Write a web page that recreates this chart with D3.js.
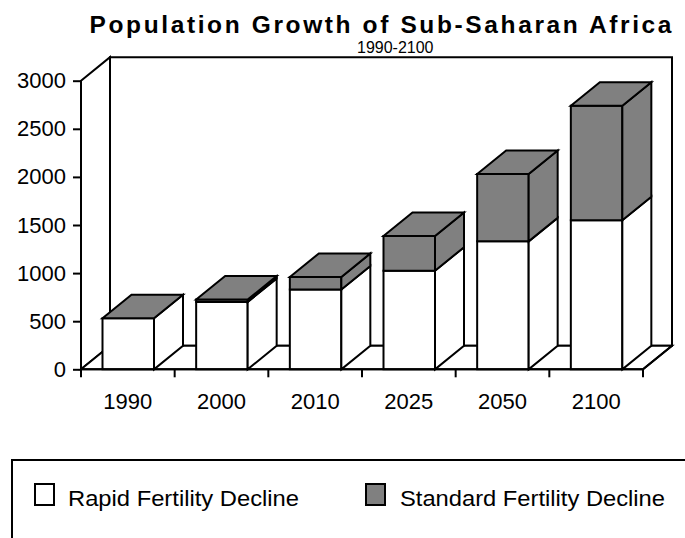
<!DOCTYPE html>
<html>
<head>
<meta charset="utf-8">
<script src="https://cdn.jsdelivr.net/npm/d3@7/dist/d3.min.js"></script>
<style>
  html, body { margin: 0; padding: 0; background: #fff; }
  svg { display: block; font-family: "Liberation Sans", Arial, Helvetica, sans-serif; }
</style>
</head>
<body>
<svg id="chart" width="685" height="538"></svg>
<script>
// Population (millions), Sub-Saharan Africa
const years = ["1990", "2000", "2010", "2025", "2050", "2100"];
const rapidDecline = [530, 700, 830, 1025, 1330, 1550];
const standardDecline = [530, 725, 960, 1385, 2030, 2740];
const yTicks = [0, 500, 1000, 1500, 2000, 2500, 3000];
const seriesNames = ["Rapid Fertility Decline", "Standard Fertility Decline"];
const seriesColors = ["#ffffff", "#808080"];

const svg = d3.select("#chart");

// plot geometry (front plane + depth offset for the 3-D look)
const plotLeft = 81, plotRight = 643, plotBottom = 369.3, plotTop = 80.7;
const dx = 29, dy = -23.5;

const x = d3.scaleBand().domain(years).range([plotLeft, plotRight]).padding(0);
const y = d3.scaleLinear().domain([0, 3000]).range([plotBottom, plotTop]);

const barOffset = 21.5, barWidth = 51.5;
const line = d3.line();

const g = svg.append("g")
  .attr("fill", "none")
  .attr("stroke", "#000")
  .attr("stroke-width", 2)
  .attr("stroke-linejoin", "miter");

// back wall
g.append("path").attr("fill", "#fff")
  .attr("d", line([[plotLeft + dx, y(3000) + dy], [plotRight + dx, y(3000) + dy],
                   [plotRight + dx, y(0) + dy], [plotLeft + dx, y(0) + dy]]) + "Z");
// side wall
g.append("path").attr("fill", "#fff")
  .attr("d", line([[plotLeft, y(3000)], [plotLeft + dx, y(3000) + dy],
                   [plotLeft + dx, y(0) + dy], [plotLeft, y(0)]]) + "Z");
// floor
g.append("path").attr("fill", "#fff")
  .attr("d", line([[plotLeft, y(0)], [plotLeft + dx, y(0) + dy],
                   [plotRight + dx, y(0) + dy], [plotRight, y(0)]]) + "Z");

// stacked 3-D columns
years.forEach((yr, i) => {
  const x0 = x(yr) + barOffset, x1 = x0 + barWidth;
  const segs = [
    [0, rapidDecline[i], seriesColors[0]],
    [rapidDecline[i], standardDecline[i], seriesColors[1]]
  ];
  const bar = g.append("g");
  segs.forEach(([v0, v1, c]) => {
    if (v1 - v0 <= 0) return;
    bar.append("path").attr("fill", c)
      .attr("d", line([[x0, y(v1)], [x1, y(v1)], [x1, y(v0)], [x0, y(v0)]]) + "Z");
    bar.append("path").attr("fill", c)
      .attr("d", line([[x1, y(v1)], [x1 + dx, y(v1) + dy], [x1 + dx, y(v0) + dy], [x1, y(v0)]]) + "Z");
  });
  const vt = standardDecline[i];
  bar.append("path").attr("fill", seriesColors[1])
    .attr("d", line([[x0, y(vt)], [x0 + dx, y(vt) + dy], [x1 + dx, y(vt) + dy], [x1, y(vt)]]) + "Z");
});

// front edges drawn over the columns
g.append("path").attr("d", line([[plotLeft, y(3000)], [plotLeft, y(0)], [plotRight, y(0)], [plotRight + dx, y(0) + dy]]));

// y axis ticks and labels
const yAxis = d3.axisLeft(y).tickValues(yTicks).tickFormat(d3.format("d"))
  .tickSize(8).tickSizeOuter(0).tickPadding(7);
const ya = svg.append("g").attr("transform", `translate(${plotLeft},0)`).call(yAxis);
ya.select(".domain").remove();
ya.selectAll(".tick line").attr("stroke", "#000").attr("stroke-width", 2);
ya.selectAll(".tick text").attr("font-size", 22).attr("fill", "#000")
  .attr("font-family", "Liberation Sans, Arial, sans-serif");

// x axis: ticks on category boundaries, labels centred in each band
const bounds = years.map(d => x(d)).concat([plotRight]);
svg.append("g").selectAll("line").data(bounds).join("line")
  .attr("x1", d => d).attr("x2", d => d)
  .attr("y1", plotBottom).attr("y2", plotBottom + 8)
  .attr("stroke", "#000").attr("stroke-width", 2);
const xAxis = d3.axisBottom(x).tickSize(0).tickPadding(0);
const xa = svg.append("g").attr("transform", `translate(0,${plotBottom})`).call(xAxis);
xa.select(".domain").remove();
xa.selectAll(".tick text").attr("font-size", 22).attr("fill", "#000")
  .attr("font-family", "Liberation Sans, Arial, sans-serif")
  .attr("dy", null).attr("y", 40);

// titles
svg.append("text").attr("x", 89.5).attr("y", 33)
  .attr("font-size", 24.5).attr("font-weight", "bold")
  .attr("textLength", 582).attr("lengthAdjust", "spacing")
  .text("Population Growth of Sub-Saharan Africa");
svg.append("text").attr("x", 357).attr("y", 53)
  .attr("font-size", 16)
  .text("1990-2100");

// legend
const lg = svg.append("g");
lg.append("rect").attr("x", 12).attr("y", 460).attr("width", 700).attr("height", 120)
  .attr("fill", "#fff").attr("stroke", "#000").attr("stroke-width", 2);
const legendItems = [
  { sx: 35, tx: 68, tw: 231 },
  { sx: 366, tx: 400, tw: 265 }
];
legendItems.forEach((it, i) => {
  lg.append("rect").attr("x", it.sx).attr("y", 484).attr("width", 19).attr("height", 21)
    .attr("fill", seriesColors[i]).attr("stroke", "#000").attr("stroke-width", 2);
  lg.append("text").attr("x", it.tx).attr("y", 505.5)
    .attr("font-size", 22).attr("textLength", it.tw).attr("lengthAdjust", "spacingAndGlyphs")
    .text(seriesNames[i]);
});
</script>
</body>
</html>
